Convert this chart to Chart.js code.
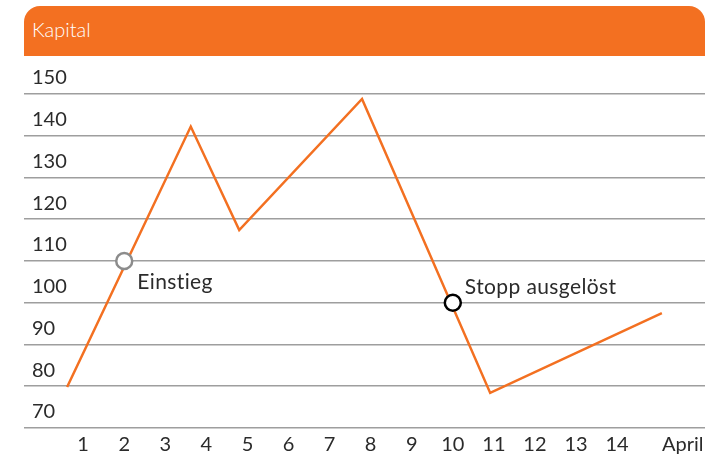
<!DOCTYPE html>
<html>
<head>
<meta charset="utf-8">
<script src="https://cdn.jsdelivr.net/npm/chart.js@4.4.1/dist/chart.umd.min.js"></script>
<style>
  html, body { margin: 0; padding: 0; background: #fff; }
  #wrap { position: relative; width: 728px; height: 456px; }
  #head {
    position: absolute; left: 24px; top: 6px; width: 681px; height: 50px;
    background: #F37021; border-radius: 16px 16px 0 0;
    color: #fff; font: 300 20px Lato, sans-serif; line-height: 46px;
    padding-left: 8px; box-sizing: border-box;
  }
  canvas { position: absolute; left: 0; top: 0; }
</style>
</head>
<body>
<div id="wrap">
  <canvas id="kapitalChart" width="728" height="456"></canvas>
  <div id="head">Kapital</div>
</div>
<script>
// Kursverlauf (x in Tagen, y Kapital)
const lineX = [0.61, 3.62, 4.8, 7.79, 10.91, 15.09];
const lineY = [79.8, 142.2, 117.4, 148.8, 78.4, 97.5];

// Markierungen
const markerNames = ["Einstieg", "Stopp ausgelöst"];
const markerX = [2, 10];
const markerY = [110, 100];

// Achsen
const yTicks = [70, 80, 90, 100, 110, 120, 130, 140, 150];
const xTickLabels = ["1", "2", "3", "4", "5", "6", "7", "8", "9", "10", "11", "12", "13", "14", "April"];
const xTickValues = [1, 2, 3, 4, 5, 6, 7, 8, 9, 10, 11, 12, 13, 14, 15.6];

const orange = "#F37021";
const textColor = "#2b2b2b";
const fontFamily = "Lato, sans-serif";

// Beschriftung der Markierungen
const markerLabels = {
    id: "markerLabels",
    afterDatasetsDraw(chart) {
        const meta = chart.getDatasetMeta(0);
        const ctx = chart.ctx;
        ctx.save();
        ctx.font = "21px " + fontFamily;
        ctx.letterSpacing = "0.4px"; // keine "ti"-Ligatur
        ctx.fillStyle = textColor;
        ctx.textAlign = "left";
        ctx.textBaseline = "middle";
        meta.data.forEach((pt, i) => {
            if (i === 0) ctx.fillText(markerNames[i], pt.x + 13, pt.y + 21);
            else ctx.fillText(markerNames[i], pt.x + 12, pt.y - 16);
        });
        ctx.restore();
    }
};

document.addEventListener("DOMContentLoaded", function () {
    let ctx = document.getElementById("kapitalChart").getContext("2d");

    new Chart(ctx, {
        type: "scatter",
        data: {
            datasets: [
                {
                    label: "Marker",
                    data: markerX.map((x, i) => ({ x: x, y: markerY[i] })),
                    pointRadius: 8,
                    pointBorderWidth: 2.5,
                    pointBackgroundColor: "#fff",
                    pointBorderColor: ["#8c8c8c", "#000"],
                    order: 0
                },
                {
                    label: "Kapital",
                    data: lineX.map((x, i) => ({ x: x, y: lineY[i] })),
                    showLine: true,
                    borderColor: orange,
                    borderWidth: 2.5,
                    pointRadius: 0,
                    tension: 0,
                    order: 1
                }
            ]
        },
        options: {
            responsive: false,
            animation: false,
            layout: { padding: { left: 24, right: 23, top: 56, bottom: 0 } },
            plugins: { legend: { display: false }, tooltip: { enabled: false } },
            scales: {
                x: {
                    type: "linear",
                    min: -0.44,
                    max: 16.14,
                    afterBuildTicks: scale => { scale.ticks = xTickValues.map(v => ({ value: v })); },
                    afterFit: scale => { scale.height = 28; },
                    grid: { display: false, drawTicks: false },
                    border: { display: false },
                    ticks: {
                        autoSkip: false,
                        maxRotation: 0,
                        padding: 5,
                        color: textColor,
                        font: { family: fontFamily, size: 20 },
                        callback: (v, i) => xTickLabels[i]
                    }
                },
                y: {
                    min: 70,
                    max: 159.1,
                    afterBuildTicks: scale => { scale.ticks = yTicks.map(v => ({ value: v })); },
                    afterFit: scale => { scale.width = 0; },
                    grid: { color: "#9e9e9e", lineWidth: 1.5, drawTicks: false },
                    border: { display: false },
                    ticks: {
                        mirror: true,
                        padding: 8,
                        labelOffset: -16,
                        color: textColor,
                        font: { family: fontFamily, size: 20 }
                    }
                }
            }
        },
        plugins: [markerLabels]
    });
});
</script>
</body>
</html>
